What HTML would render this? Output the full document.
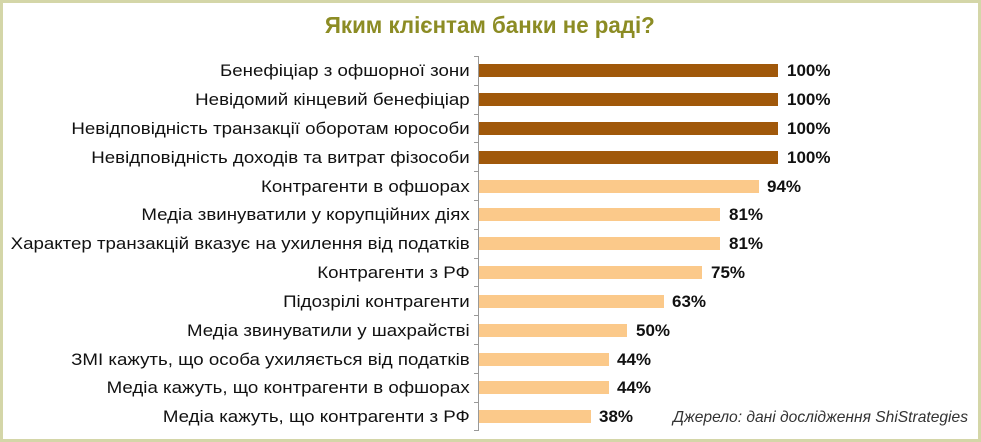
<!DOCTYPE html>
<html><head><meta charset="utf-8"><style>
html,body{margin:0;padding:0;background:#fff;}
svg{display:block;}
</style></head><body>
<svg width="981" height="442" xmlns="http://www.w3.org/2000/svg" font-family="Liberation Sans, sans-serif">
<rect x="1.5" y="1.5" width="978" height="439" fill="#fff" stroke="#d4d6a8" stroke-width="3"/>
<g transform="scale(0.97,1)">
<text x="505" y="33" text-anchor="middle" font-size="23" font-weight="bold" fill="#8c8c24">Яким клієнтам банки не раді?</text>
</g>
<line x1="478.5" y1="56" x2="478.5" y2="431" stroke="#999" stroke-width="1"/>
<g stroke="#999">
<line x1="474" y1="56.5" x2="478" y2="56.5"/><line x1="474" y1="85.5" x2="478" y2="85.5"/><line x1="474" y1="114.5" x2="478" y2="114.5"/><line x1="474" y1="142.5" x2="478" y2="142.5"/><line x1="474" y1="171.5" x2="478" y2="171.5"/><line x1="474" y1="200.5" x2="478" y2="200.5"/><line x1="474" y1="229.5" x2="478" y2="229.5"/><line x1="474" y1="258.5" x2="478" y2="258.5"/><line x1="474" y1="286.5" x2="478" y2="286.5"/><line x1="474" y1="315.5" x2="478" y2="315.5"/><line x1="474" y1="344.5" x2="478" y2="344.5"/><line x1="474" y1="373.5" x2="478" y2="373.5"/><line x1="474" y1="402.5" x2="478" y2="402.5"/><line x1="474" y1="430.5" x2="478" y2="430.5"/>
</g>
<g>
<rect x="479" y="64" width="299" height="13" fill="#a0580a"/>
<rect x="479" y="93" width="299" height="13" fill="#a0580a"/>
<rect x="479" y="122" width="299" height="13" fill="#a0580a"/>
<rect x="479" y="151" width="299" height="13" fill="#a0580a"/>
<rect x="479" y="180" width="280" height="13" fill="#fbc98a"/>
<rect x="479" y="208" width="241" height="13" fill="#fbc98a"/>
<rect x="479" y="237" width="241" height="13" fill="#fbc98a"/>
<rect x="479" y="266" width="223" height="13" fill="#fbc98a"/>
<rect x="479" y="295" width="185" height="13" fill="#fbc98a"/>
<rect x="479" y="324" width="148" height="13" fill="#fbc98a"/>
<rect x="479" y="353" width="130" height="13" fill="#fbc98a"/>
<rect x="479" y="381" width="130" height="13" fill="#fbc98a"/>
<rect x="479" y="410" width="112" height="13" fill="#fbc98a"/>
</g>
<g font-size="17" font-weight="bold" fill="#111">
<text x="787" y="76">100%</text>
<text x="787" y="105">100%</text>
<text x="787" y="134">100%</text>
<text x="787" y="163">100%</text>
<text x="767" y="192">94%</text>
<text x="729" y="220">81%</text>
<text x="729" y="249">81%</text>
<text x="711" y="278">75%</text>
<text x="672" y="307">63%</text>
<text x="636" y="336">50%</text>
<text x="617" y="365">44%</text>
<text x="617" y="393">44%</text>
<text x="599" y="422">38%</text>
</g>
<g transform="scale(1.1,1)" font-size="17" fill="#111" text-anchor="end">
<text x="427" y="76">Бенефіціар з офшорної зони</text>
<text x="427" y="105">Невідомий кінцевий бенефіціар</text>
<text x="427" y="134">Невідповідність транзакції оборотам юрособи</text>
<text x="427" y="163">Невідповідність доходів та витрат фізособи</text>
<text x="427" y="192">Контрагенти в офшорах</text>
<text x="427" y="220">Медіа звинуватили у корупційних діях</text>
<text x="427" y="249">Характер транзакцій вказує на ухилення від податків</text>
<text x="427" y="278">Контрагенти з РФ</text>
<text x="427" y="307">Підозрілі контрагенти</text>
<text x="427" y="336">Медіа звинуватили у шахрайстві</text>
<text x="427" y="365">ЗМІ кажуть, що особа ухиляється від податків</text>
<text x="427" y="393">Медіа кажуть, що контрагенти в офшорах</text>
<text x="427" y="422">Медіа кажуть, що контрагенти з РФ</text>
</g>
<text x="968" y="422" text-anchor="end" font-size="15.6" font-style="italic" fill="#333">Джерело: дані дослідження ShiStrategies</text>
</svg>
</body></html>
